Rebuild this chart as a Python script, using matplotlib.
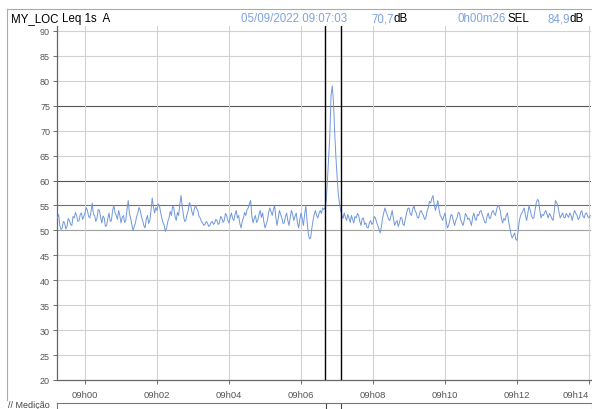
import matplotlib
matplotlib.use("Agg")
import matplotlib.pyplot as plt
from matplotlib.lines import Line2D
import numpy as np

plt.rcParams['font.family'] = ['Liberation Sans', 'DejaVu Sans']

# ---- data: Leq 1s A (dB), sampled every 2 s; each list starts at the given
# time in seconds relative to 09:00:00 ----
step_s = 2
leq_0859 = [52.5, 53.2, 51.0, 50.2, 50.5, 51.8, 51.5, 50.3, 50.8, 52.4,
            52.0, 51.2, 51.0, 52.8, 52.5, 53.6, 53.0, 51.8, 52.0, 53.2,
            53.5, 52.2, 52.8]
leq_0900 = [53.5, 54.6, 54.0, 52.8, 52.5, 53.8, 55.5, 53.2, 53.0, 51.8,
            52.5, 54.2, 54.0, 52.6, 51.5, 52.9, 52.5, 50.8, 51.0, 52.4,
            53.5, 51.8, 52.0, 54.0, 55.0, 53.6, 53.0, 52.2, 54.0, 53.0]
leq_0901 = [51.5, 52.6, 53.0, 51.6, 52.0, 54.2, 56.0, 53.4, 52.5, 51.2,
            50.0, 50.8, 51.5, 52.8, 53.5, 54.6, 54.0, 52.8, 52.0, 51.0,
            50.5, 52.2, 53.0, 51.4, 52.0, 54.0, 56.5, 54.8, 53.5, 54.6]
leq_0902 = [54.0, 55.3, 55.0, 53.6, 52.5, 51.6, 51.0, 49.8, 50.5, 51.8,
            52.5, 53.8, 53.0, 54.9, 54.5, 52.8, 52.0, 53.6, 53.0, 55.2,
            57.0, 54.8, 53.0, 51.8, 52.0, 53.2, 54.0, 55.6, 55.0, 53.8]
leq_0903 = [53.0, 54.2, 55.0, 54.4, 54.0, 52.8, 52.5, 51.8, 51.5, 51.0,
            51.2, 51.8, 51.5, 50.8, 51.0, 51.6, 51.8, 51.2, 51.5, 52.2,
            52.0, 51.2, 51.5, 52.8, 52.5, 51.6, 52.0, 53.4, 53.0, 52.0]
leq_0904 = [51.5, 52.6, 53.5, 52.4, 52.0, 53.2, 54.0, 52.5, 53.0, 51.4,
            50.5, 51.8, 52.5, 53.6, 53.0, 54.2, 54.5, 55.4, 56.0, 53.0,
            51.5, 52.4, 53.0, 51.6, 52.0, 53.2, 54.0, 52.6, 53.5, 51.8]
leq_0905 = [50.5, 51.2, 52.0, 53.6, 54.5, 53.8, 53.0, 54.2, 55.0, 52.6,
            51.0, 52.4, 54.0, 53.2, 52.5, 51.4, 51.5, 52.8, 53.5, 52.0,
            51.0, 52.6, 54.0, 53.2, 52.0, 52.8, 53.5, 51.6, 50.5, 52.2]
leq_0906 = [53.5, 52.4, 51.0, 53.2, 55.0, 52.0, 49.5, 48.3, 48.5, 50.4,
            52.0, 53.2, 54.0, 53.0, 52.5, 53.4, 54.0, 53.4, 54.5, 54.2,
            54.5, 56.0, 60.0, 64.5, 69.0, 77.0, 79.0, 76.0, 70.0, 65.0]
leq_0907 = [61.0, 57.5, 55.5, 54.0, 53.0, 52.4, 53.5, 52.6, 52.0, 53.2,
            52.5, 51.6, 53.0, 52.2, 51.5, 52.8, 52.5, 53.4, 53.0, 51.8,
            51.0, 52.4, 52.5, 51.2, 51.5, 50.6, 50.5, 51.6, 52.0, 51.2]
leq_0908 = [51.5, 52.8, 52.5, 51.6, 51.0, 50.2, 49.5, 50.8, 52.5, 53.6,
            54.5, 53.6, 53.0, 52.2, 52.0, 53.0, 54.0, 52.4, 51.0, 51.6,
            52.0, 50.8, 51.5, 52.6, 52.5, 51.2, 51.0, 52.4, 53.5, 54.4]
leq_0909 = [54.5, 53.4, 53.0, 54.2, 55.0, 54.0, 53.5, 52.6, 52.5, 53.6,
            54.0, 53.4, 53.0, 52.2, 52.5, 53.8, 54.5, 55.8, 55.5, 56.4,
            57.0, 55.2, 54.0, 55.0, 56.0, 54.2, 53.0, 52.6, 52.0, 52.8]
leq_0910 = [53.5, 51.8, 50.5, 51.0, 52.0, 53.2, 53.0, 51.8, 51.0, 52.0,
            52.5, 53.6, 53.5, 52.2, 51.5, 51.0, 52.0, 53.4, 53.0, 52.2,
            52.5, 51.8, 51.0, 52.6, 53.5, 52.4, 52.0, 53.2, 53.0, 53.8]
leq_0911 = [54.0, 53.2, 52.5, 51.6, 51.5, 52.8, 53.5, 52.4, 52.5, 53.6,
            54.0, 53.4, 53.0, 54.2, 55.0, 54.8, 54.0, 52.4, 51.5, 52.4,
            52.0, 53.0, 53.5, 51.8, 50.5, 49.2, 48.5, 49.0, 49.5, 48.2]
leq_0912 = [48.0, 50.2, 52.0, 53.0, 53.5, 54.0, 54.5, 53.0, 52.0, 53.4,
            55.0, 54.0, 53.0, 52.4, 52.5, 54.0, 55.5, 56.2, 56.0, 54.0,
            52.5, 53.2, 53.0, 53.6, 54.0, 53.2, 52.5, 53.4, 53.0, 52.4]
leq_0913 = [52.0, 53.8, 56.0, 55.6, 55.0, 53.6, 52.5, 53.0, 53.5, 52.6,
            52.5, 53.4, 53.0, 52.6, 53.5, 53.0, 52.0, 53.2, 54.0, 53.4,
            53.0, 52.2, 52.5, 53.6, 54.0, 52.8, 52.5, 53.4, 53.5, 52.8]
leq_0914 = [52.5, 53.0]

chunks = [(-46, leq_0859), (0, leq_0900), (60, leq_0901), (120, leq_0902),
          (180, leq_0903), (240, leq_0904), (300, leq_0905), (360, leq_0906),
          (420, leq_0907), (480, leq_0908), (540, leq_0909), (600, leq_0910),
          (660, leq_0911), (720, leq_0912), (780, leq_0913), (840, leq_0914)]

x_ticks_s = [0, 120, 240, 360, 480, 600, 720, 840]
x_tick_labels = ["09h00", "09h02", "09h04", "09h06", "09h08", "09h10", "09h12", "09h14"]
y_ticks = [20, 25, 30, 35, 40, 45, 50, 55, 60, 65, 70, 75, 80, 85, 90]
cursor_s = [400, 426]

header_date = "05/09/2022 09:07:03"
header_leq = "70,7"
header_dur = "0h00m26"
header_sel = "84,9"

times_s = []
values_db = []
for start, vals in chunks:
    times_s.extend(start + step_s * i for i in range(len(vals)))
    values_db.extend(vals)

# ---- figure ----
W, H = 592, 410
fig = plt.figure(figsize=(W / 100, H / 100), dpi=100)

def fx(px):
    return px / W

def fy(py):
    return 1 - py / H

ax_left, ax_right, ax_top, ax_bottom = 57, 591, 27, 381
ax = fig.add_axes([fx(ax_left), fy(ax_bottom), fx(ax_right - ax_left), (ax_bottom - ax_top) / H])

xlim = (-46.7, 843.3)
ax.set_xlim(*xlim)
ax.set_ylim(20, 91)

grid_colors = {75: "#555555", 60: "#555555", 55: "#707070", 50: "#a0a0a0"}
for yv in y_ticks:
    if yv == 20:
        continue
    ax.axhline(yv, color=grid_colors.get(yv, "#d2d2d2"), lw=0.8, zorder=1)
for xv in x_ticks_s:
    ax.axvline(xv, color="#d2d2d2", lw=0.8, zorder=1)

ax.plot(times_s, values_db, color="#7097db", lw=0.7, zorder=3)

for c in cursor_s:
    ax.axvline(c, color="black", lw=1.0, zorder=4)

ax.set_yticks(y_ticks)
ax.set_yticklabels([str(v) for v in y_ticks])
ax.set_xticks(x_ticks_s)
ax.set_xticklabels(x_tick_labels)
ax.tick_params(axis="y", labelsize=6.5, colors="#555555", length=3, width=0.6, pad=2)
ax.tick_params(axis="x", labelsize=6.8, colors="#555555", length=3, width=0.6, pad=4)
ax.get_xticklabels()[-1].set_horizontalalignment("right")
for s in ["top", "right"]:
    ax.spines[s].set_visible(False)
for s in ["left", "bottom"]:
    ax.spines[s].set_color("#666666")
    ax.spines[s].set_linewidth(0.9)

# bottom strip
sx = fig.add_axes([fx(57), fy(413), fx(592 - 57), 9 / H])
sx.set_xlim(*xlim)
sx.set_ylim(0, 1)
sx.set_xticks([])
sx.set_yticks([])
for s in sx.spines.values():
    s.set_color("#777777")
    s.set_linewidth(0.8)
for c in cursor_s:
    sx.axvline(c, color="#444444", lw=0.8)
fig.text(fx(8), fy(406), "// Medição", fontsize=6.5, color="#444444", va="center", ha="left")

# panel border
fig.add_artist(Line2D([fx(7), fx(7)], [fy(10), fy(401)], color="#aaaaaa", lw=0.8))
fig.add_artist(Line2D([fx(7), 1], [fy(10), fy(10)], color="#aaaaaa", lw=0.8))

# header
blue = "#7fa3df"
hy = fy(19)
fs = 8.3
fig.text(fx(11), hy, "MY_LOC", fontsize=fs, color="black", va="center")
fig.text(fx(62), hy, "Leq 1s  A", fontsize=fs, color="black", va="center")
fig.text(fx(241), hy, header_date, fontsize=fs, color=blue, va="center")
fig.text(fx(394), hy, header_leq, fontsize=fs, color=blue, va="center", ha="right")
fig.text(fx(394), hy, "dB", fontsize=fs, color="black", va="center", ha="left")
fig.text(fx(457), hy, header_dur, fontsize=fs, color=blue, va="center")
fig.text(fx(508), hy, "SEL", fontsize=fs, color="black", va="center")
fig.text(fx(570), hy, header_sel, fontsize=fs, color=blue, va="center", ha="right")
fig.text(fx(570), hy, "dB", fontsize=fs, color="black", va="center", ha="left")

fig.savefig("out.png", dpi=100)
